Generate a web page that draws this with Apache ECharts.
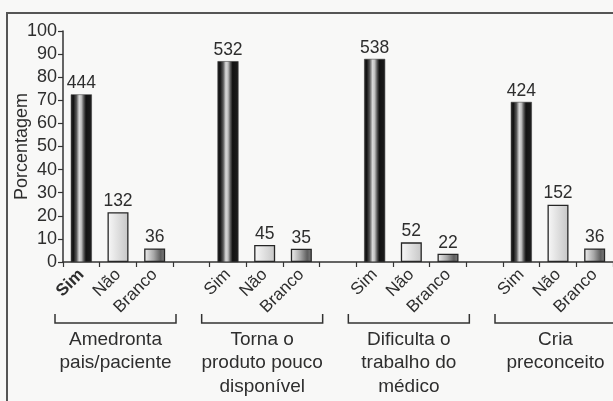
<!DOCTYPE html>
<html>
<head>
<meta charset="utf-8">
<script src="https://cdn.jsdelivr.net/npm/echarts@6/dist/echarts.min.js"></script>
<style>
  html, body { margin: 0; padding: 0; background: #f8f8f7; }
  #chart { width: 613px; height: 401px; }
</style>
</head>
<body>
<div id="chart"></div>
<script>
// Answer options shown under each group
const answers = ['Sim', 'Não', 'Branco'];
// Question groups (bracket captions)
const groups = [
  'Amedronta\npais/paciente',
  'Torna o\nproduto pouco\ndisponível',
  'Dificulta o\ntrabalho do\nmédico',
  'Cria\npreconceito'
];
// Respondent counts per group
const simCounts = [444, 532, 538, 424];
const naoCounts = [132, 45, 52, 152];
const brancoCounts = [36, 35, 22, 36];
// Respondents per group
const respondents = 612;
// Y axis ticks
const yMax = 100;
const yStep = 10;

const FONT = '"Liberation Sans", Arial, sans-serif';
const TEXT = '#2e2e2e';

// Fill styles for each answer
function fillFor(k) {
  if (k === 0) {
    // dark cylinder with a bright band
    return new echarts.graphic.LinearGradient(0, 0, 1, 0, [
      { offset: 0, color: '#2a2a2a' },
      { offset: 0.12, color: '#111' },
      { offset: 0.27, color: '#5a5a5a' },
      { offset: 0.4, color: '#dadada' },
      { offset: 0.5, color: '#c0c0c0' },
      { offset: 0.62, color: '#555' },
      { offset: 0.72, color: '#121212' },
      { offset: 0.93, color: '#1a1a1a' },
      { offset: 1, color: '#3a3a3a' }
    ]);
  }
  if (k === 1) {
    return new echarts.graphic.LinearGradient(0, 0, 1, 0, [
      { offset: 0, color: '#f8f8f8' },
      { offset: 1, color: '#c6c6c6' }
    ]);
  }
  return new echarts.graphic.LinearGradient(0, 0, 1, 0, [
    { offset: 0, color: '#f2f2f2' },
    { offset: 0.45, color: '#a8a8a8' },
    { offset: 0.78, color: '#5e5e5e' },
    { offset: 1, color: '#7e7e7e' }
  ]);
}

// Build the 15 category slots: 3 answers per group + a spacer between groups
const categories = [];
const barData = [];
const counts = [simCounts, naoCounts, brancoCounts];
const groupSlots = [];
groups.forEach((g, gi) => {
  if (gi > 0) { categories.push(''); barData.push('-'); }
  const start = categories.length;
  answers.forEach((a, k) => {
    const n = counts[k][gi];
    categories.push(a);
    barData.push({
      value: n / respondents * 100,
      count: n,
      itemStyle: {
        color: fillFor(k),
        borderColor: '#262626',
        borderWidth: k === 0 ? 0.5 : 1.3
      }
    });
  });
  groupSlots.push([start, categories.length - 1]);
});

const chart = echarts.init(document.getElementById('chart'), null, { renderer: 'canvas' });

const option = {
  backgroundColor: '#f8f8f7',
  animation: false,
  textStyle: { fontFamily: FONT },
  grid: { left: 63, right: 0, top: 31, bottom: 139, containLabel: false, outerBoundsMode: 'none' },
  xAxis: {
    type: 'category',
    data: categories,
    axisLine: { lineStyle: { color: '#333', width: 1.5 } },
    axisTick: { show: true, length: 5, lineStyle: { color: '#333', width: 1.2 } },
    axisLabel: {
      rotate: 45,
      interval: 0,
      margin: 10,
      color: TEXT,
      fontSize: 17,
      fontFamily: FONT,
      formatter: (v, i) => (i === 0 ? '{b|' + v + '}' : v),
      rich: { b: { fontWeight: 'bold', fontSize: 17, color: TEXT, fontFamily: FONT } }
    }
  },
  yAxis: {
    type: 'value',
    min: 0,
    max: yMax,
    interval: yStep,
    name: 'Porcentagem',
    nameLocation: 'middle',
    nameGap: 32,
    nameRotate: 90,
    nameMoveOverlap: false,
    nameTextStyle: { color: TEXT, fontSize: 18, fontFamily: FONT },
    axisLine: { show: true, lineStyle: { color: '#333', width: 1.5 } },
    axisTick: { show: true, length: 5, lineStyle: { color: '#333', width: 1.2 } },
    axisLabel: { color: TEXT, fontSize: 18, fontFamily: FONT, margin: 6 },
    splitLine: { show: false }
  },
  series: [{
    type: 'bar',
    data: barData,
    barWidth: 21,
    label: {
      show: true,
      position: 'top',
      distance: 2,
      color: TEXT,
      fontSize: 17.5,
      fontFamily: FONT,
      formatter: p => p.data.count
    }
  }]
};

chart.setOption(option);

// Brackets and captions under each group, placed through the category axis
const slotW = chart.convertToPixel({ xAxisIndex: 0 }, 1) - chart.convertToPixel({ xAxisIndex: 0 }, 0);
const elements = [{
  type: 'rect',
  shape: { x: 7, y: 13, width: 640, height: 420 },
  style: { fill: null, stroke: '#555', lineWidth: 2 },
  silent: true
}];
groupSlots.forEach(([s, e], gi) => {
  const x0 = chart.convertToPixel({ xAxisIndex: 0 }, s) - slotW / 2 - 8;
  const x1 = chart.convertToPixel({ xAxisIndex: 0 }, e) + slotW / 2 + 3;
  elements.push({
    type: 'polyline',
    shape: { points: [[x0, 314], [x0, 323], [x1, 323], [x1, 314]] },
    style: { stroke: '#333', lineWidth: 1.5, fill: null },
    silent: true
  });
  elements.push({
    type: 'text',
    x: (x0 + x1) / 2,
    y: 328,
    style: {
      text: groups[gi],
      align: 'center',
      verticalAlign: 'top',
      fill: TEXT,
      font: '19px ' + FONT,
      lineHeight: 23.5
    },
    silent: true
  });
});
chart.setOption({ graphic: elements });
</script>
</body>
</html>
